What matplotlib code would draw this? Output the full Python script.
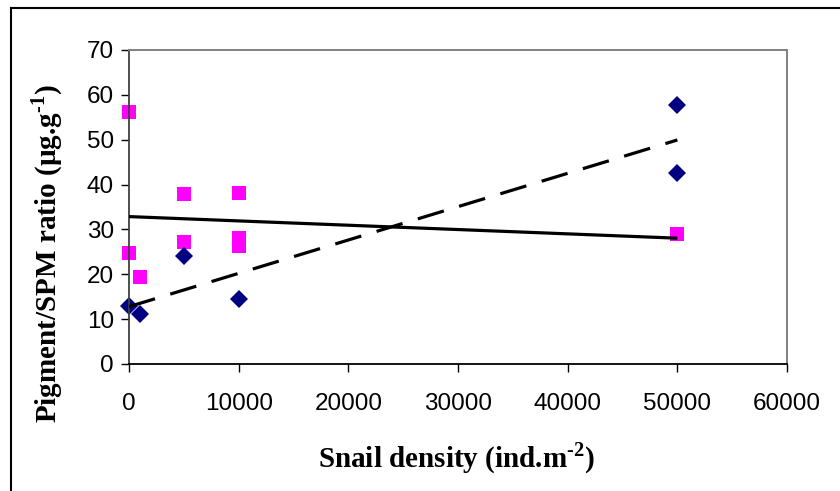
import matplotlib
matplotlib.use('Agg')
import matplotlib.pyplot as plt
import numpy as np
from matplotlib.lines import Line2D

# snail density (ind.m-2) and pigment/SPM ratio, two series
diamond_x = [0, 1000, 5000, 10000, 50000, 50000]
diamond_y = [12.9, 11.1, 24.0, 14.6, 57.7, 42.6]

square_x = [0, 0, 1000, 5000, 5000, 10000, 10000, 10000, 50000]
square_y = [56.2, 24.8, 19.5, 37.8, 27.1, 38.2, 28.2, 26.3, 28.9]

x_ticks = [0, 10000, 20000, 30000, 40000, 50000, 60000]
y_ticks = [0, 10, 20, 30, 40, 50, 60, 70]

plt.rcParams['mathtext.fontset'] = 'custom'
plt.rcParams['mathtext.bf'] = 'Liberation Serif:bold'
plt.rcParams['mathtext.rm'] = 'Liberation Serif:bold'


def plot():
    fig = plt.figure(figsize=(8.4, 4.91), dpi=100)
    ax = fig.add_axes([129 / 840, 1 - 364 / 491, 658 / 840, 314 / 491])

    # trend lines (least squares fits)
    for xs, ys, style in [(diamond_x, diamond_y, 'dashed'), (square_x, square_y, 'solid')]:
        slope, icpt = np.polyfit(xs, ys, 1)
        ends = np.array([min(xs), max(xs)])
        line, = ax.plot(ends, slope * ends + icpt, color='black', lw=2.3,
                        solid_capstyle='butt', zorder=3)
        if style == 'dashed':
            line.set_dashes((8.5, 5))

    ax.plot(square_x, square_y, 's', color='#FF00FF', markersize=10,
            markeredgewidth=0, zorder=2, clip_on=False)
    ax.plot(diamond_x, diamond_y, 'D', color='#000080', markersize=9.5,
            markeredgewidth=0, zorder=2, clip_on=False)

    ax.set_xlim(0, 60000)
    ax.set_ylim(0, 70)
    ax.set_xticks(x_ticks)
    ax.set_yticks(y_ticks)
    ax.tick_params(direction='out', length=5.8, width=1, colors='black',
                   labelsize=17.5, labelfontfamily='Liberation Sans')
    ax.tick_params(axis='x', pad=15)
    ax.tick_params(axis='y', pad=5)
    ax.spines['top'].set_color('#808080')
    ax.spines['right'].set_color('#808080')
    ax.spines['top'].set_linewidth(1.4)
    ax.spines['right'].set_linewidth(1.4)
    ax.spines['left'].set_color('#404040')
    ax.spines['bottom'].set_color('black')
    for side in ['left', 'bottom']:
        ax.spines[side].set_linewidth(1.3)

    fig.text(457 / 840, 1 - 458 / 491, 'Snail density (ind.m$^{\\mathbf{\u2010}\\mathbf{2}}$)',
             ha='center', va='center', fontsize=21, fontweight='bold',
             family='Liberation Serif')
    fig.text(47 / 840, 1 - 254 / 491, 'Pigment/SPM ratio (µg.g$^{\\mathbf{\u2010}\\mathbf{1}}$)',
             ha='center', va='center', rotation=90, fontsize=21,
             fontweight='bold', family='Liberation Serif')

    # outer chart frame
    fig.add_artist(Line2D([11 / 840, 11 / 840], [0, 1 - 8 / 491], color='black', lw=1.5))
    fig.add_artist(Line2D([11 / 840, 1], [1 - 8 / 491, 1 - 8 / 491], color='black', lw=1.5))

    fig.savefig('out.png', dpi=100)


def main():
    plot()


if __name__ == '__main__':
    main()
